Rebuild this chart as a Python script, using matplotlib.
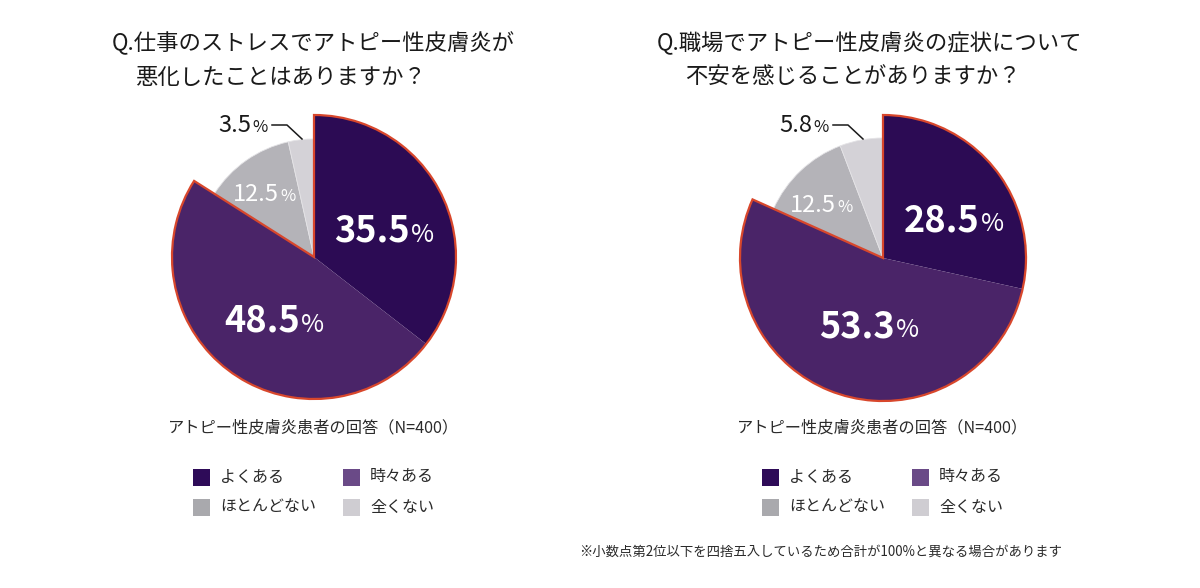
import matplotlib
matplotlib.use("Agg")
import matplotlib.pyplot as plt
from matplotlib.patches import Wedge, Rectangle

plt.rcParams['font.family'] = ['Noto Sans CJK JP', 'DejaVu Sans']

# data
categories = ['よくある', '時々ある', 'ほとんどない', '全くない']
stress_values = [35.5, 48.5, 12.5, 3.5]
anxiety_values = [28.5, 53.3, 12.5, 5.8]

title_lines = [
    ['Q.仕事のストレスでアトピー性皮膚炎が', '悪化したことはありますか？'],
    ['Q.職場でアトピー性皮膚炎の症状について', '不安を感じることがありますか？'],
]
subtitle = 'アトピー性皮膚炎患者の回答（N=400）'
note = '※小数点第2位以下を四捨五入しているため合計が100%と異なる場合があります'

colors = ['#2c0b54', '#4a2468', '#b4b3b8', '#d4d2d7']
legend_colors = ['#2e0b58', '#6a4a87', '#a9a9ad', '#cfcdd2']
red = '#d8472c'
H = 588


def py(y):
    # pixel row -> data y
    return H - y


fig = plt.figure(figsize=(12, 5.88), dpi=100)
ax = fig.add_axes([0, 0, 1, 1])

charts = [
    dict(values=stress_values, center=(314, 257), r_big=142, r_small=118,
         title_x=(112, 135),
         label_pos=[(410, 242), (300, 332), (279, 201), (251, 132)],
         leader=[(272, 125), (287, 125), (302, 139)]),
    dict(values=anxiety_values, center=(883, 258), r_big=143, r_small=120,
         title_x=(657, 685),
         label_pos=[(980, 231), (895, 337), (836, 212), (812, 132)],
         leader=[(833, 125), (848, 125), (863, 139)]),
]

for i, c in enumerate(charts):
    cx, cy = c['center']
    center = (cx, py(cy))
    vals = c['values']

    # small gray slices
    small, _ = ax.pie(vals, radius=c['r_small'], center=center, colors=colors,
                      startangle=90, counterclock=False,
                      wedgeprops=dict(edgecolor='#e4e3e6', linewidth=0.6))
    for w in small[:2]:
        w.set_visible(False)

    # big highlighted slices
    big, _ = ax.pie(vals, radius=c['r_big'], center=center, colors=colors,
                    startangle=90, counterclock=False,
                    wedgeprops=dict(edgecolor='none', linewidth=0))
    for w in big[2:]:
        w.set_visible(False)
    for w in big[:2]:
        w.set_zorder(3)
    t1 = min(big[0].theta1, big[1].theta1)
    t2 = max(big[0].theta2, big[1].theta2)
    ax.add_patch(Wedge(center, c['r_big'], t1, t2, fill=False, edgecolor=red,
                       linewidth=1.6, joinstyle='miter', zorder=4))

    # value labels
    for k, v in enumerate(vals):
        x, y = c['label_pos'][k]
        num = f'{v:.1f}'
        if k < 2:
            ax.text(x, py(y), num, ha='right', va='baseline', color='white',
                    fontsize=26, fontweight='bold', zorder=5)
            ax.text(x + 1, py(y), '%', ha='left', va='baseline', color='white',
                    fontsize=18, zorder=5)
        else:
            col = 'white' if k == 2 else '#1a1a1a'
            ax.text(x, py(y), num, ha='right', va='baseline', color=col,
                    fontsize=17, zorder=5)
            ax.text(x + 1, py(y), '%', ha='left', va='baseline', color=col,
                    fontsize=12, zorder=5)
    lx = [p[0] for p in c['leader']]
    ly = [py(p[1]) for p in c['leader']]
    ax.plot(lx, ly, color='#1a1a1a', linewidth=1.1, zorder=5)

    # titles
    ax.text(c['title_x'][0], py(43), title_lines[i][0], ha='left', va='center',
            fontsize=16.1, color='#1a1a1a')
    ax.text(c['title_x'][1], py(77), title_lines[i][1], ha='left', va='center',
            fontsize=16.1, color='#1a1a1a')

    # subtitle
    ax.text(cx, py(428), subtitle, ha='center', va='center', fontsize=11.7,
            color='#2a2a2a')

    # legend
    for k, cat in enumerate(categories):
        col, row = k % 2, k // 2
        sx = cx - 121 + col * 150
        sy = 477 + row * 30
        ax.add_patch(Rectangle((sx, py(sy + 8.5)), 17, 17, facecolor=legend_colors[k],
                               edgecolor='none'))
        ax.text(sx + 27, py(sy), cat, ha='left', va='center', fontsize=11.5,
                color='#2a2a2a')

ax.text(1062, py(552), note, ha='right', va='center', fontsize=9.6, color='#2a2a2a')

ax.set_xlim(0, 1200)
ax.set_ylim(0, H)
ax.set_aspect('equal')
ax.axis('off')

fig.savefig('out.png', dpi=100, facecolor='white')
